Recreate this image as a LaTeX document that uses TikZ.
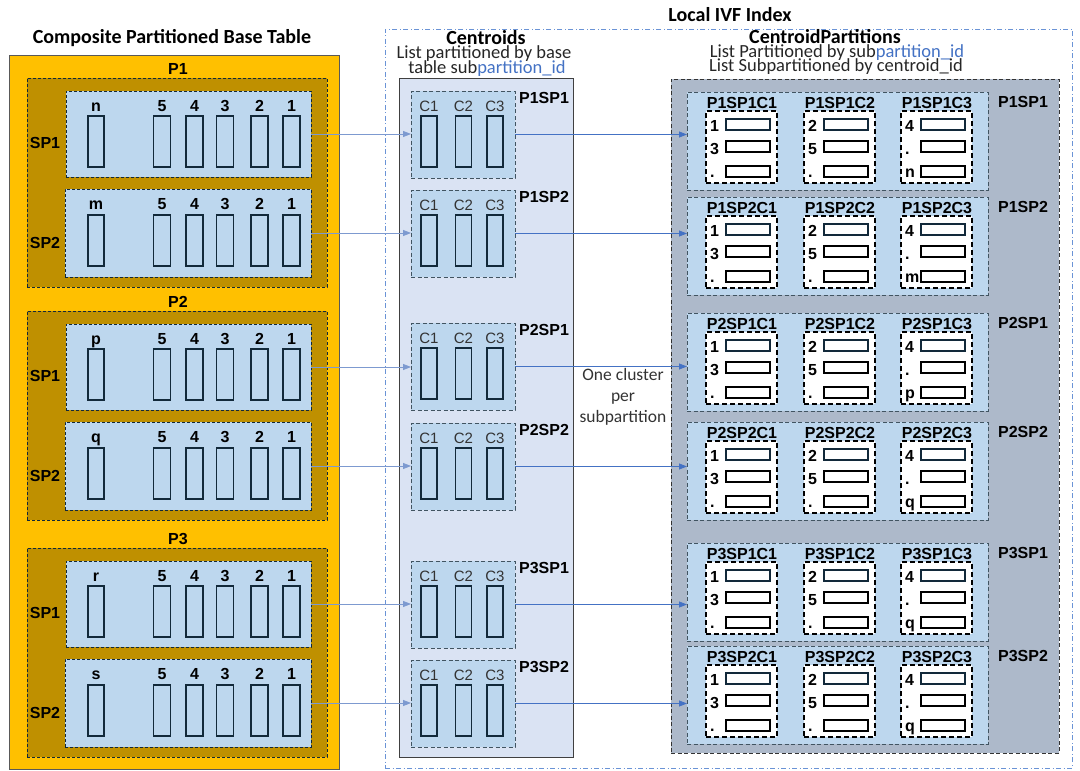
\documentclass[tikz,border=0pt]{standalone}
\usepackage{fontspec}
\setmainfont{Liberation Sans}
\newfontfamily\calib{Carlito}
\usetikzlibrary{arrows.meta}
\definecolor{gold}{HTML}{FFC000}
\definecolor{dgold}{HTML}{BF9000}
\definecolor{lblue}{HTML}{BDD7EE}
\definecolor{pblue}{HTML}{DAE3F3}
\definecolor{grayb}{HTML}{ADB9CA}
\definecolor{arr}{HTML}{4472C4}
\definecolor{arrL}{HTML}{7D9AD0}
\definecolor{colc}{HTML}{12293A}
\definecolor{ivfc}{HTML}{6A93D6}
\definecolor{linkblue}{HTML}{4472C4}
\newcommand\boxat[6]{\node[#1, minimum width=#5pt, minimum height=#6pt] (#2) at (#3,#4) {};}
\begin{document}
\begin{tikzpicture}[x=1pt,y=-1pt,
  every node/.style={inner sep=0pt, outer sep=0pt},
  area/.style={rectangle, anchor=north west, line width=0.6pt},
  yellowbox/.style={area, draw=black!65, fill=gold},
  pbox/.style={area, draw=colc, dash pattern=on 3pt off 2pt, fill=dgold},
  spbox/.style={area, draw=colc, dash pattern=on 3pt off 2pt, fill=lblue},
  cbox/.style={area, draw=black!75, fill=pblue},
  cpbox/.style={area, draw=colc!80, dash pattern=on 4pt off 2.5pt, line width=0.8pt, fill=lblue},
  graybox/.style={area, draw=black!80, dash pattern=on 4pt off 2.5pt, line width=0.8pt, fill=grayb},
  whitebox/.style={area, draw=black, line width=1.6pt, dash pattern=on 5pt off 3pt, fill=white},
  ivfbox/.style={area, draw=ivfc, dash pattern=on 5pt off 2.5pt on 1pt off 2.5pt, line width=0.8pt},
  col/.style={draw=colc, line width=1.5pt},
  rowrect/.style={draw=black, line width=1.6pt, fill=white},
  rowrectA/.style={draw=colc, line width=1.6pt, fill=white},
  lbl/.style={font=\fontsize{16}{19}\selectfont\bfseries, anchor=base},
  clbl/.style={font=\fontsize{15}{18}\selectfont, text=black!80, anchor=base},
  head/.style={font=\calib\bfseries\fontsize{20}{24}\selectfont, anchor=base},
  subh/.style={font=\calib\fontsize{18.5}{20}\selectfont, text=black!85, anchor=base},
  link/.style={-{Triangle[length=8pt,width=6pt]}, draw=arr, line width=0.8pt},
  linkL/.style={-{Triangle[length=8pt,width=6pt]}, draw=arrL, line width=0.8pt}
]
\useasboundingbox (0,0) rectangle (1080,771);
% titles
\node[head] (title) at (172,43) {Composite Partitioned Base Table};
\node[head] (ivftitle) at (730,21) {Local IVF Index};
\boxat{ivfbox}{ivf}{385}{29}{687}{739}
\node[head] (centtitle) at (486,44) {Centroids};
\node[subh] (cent1) at (484,58) {List partitioned by base};
\node[subh] (cent2) at (487,73) {table sub\textcolor{linkblue}{partition\_id}};
\node[head] (cptitle) at (825,43) {CentroidPartitions};
\node[subh] (cp1) at (837,57) {List Partitioned by sub\textcolor{linkblue}{partition\_id}};
\node[subh] (cp2) at (836,71) {List Subpartitioned by centroid\_id};
% left table
\boxat{yellowbox}{table}{9}{55}{330}{714}
\foreach \T/\p/\a/\b in {78/1/n/m,311/2/p/q,548/3/r/s}{
  \node[lbl] (P\p-l) at (178,\T-4) {P\p};
  \boxat{pbox}{P\p}{27}{\T}{300}{209}
  \boxat{spbox}{L\p1}{66}{\T+13}{245}{86}
  \boxat{spbox}{L\p2}{65}{\T+111}{246}{88}
  \node[lbl] (L\p1-l) at (45,\T+70) {SP1};
  \node[lbl] (L\p2-l) at (45,\T+170) {SP2};
  \node[lbl] (L\p1-h0) at (96,\T+33) {\a};
  \node[lbl] (L\p2-h0) at (96,\T+131) {\b};
  \draw[col] (88,\T+38) rectangle (104,\T+89);
  \draw[col] (88,\T+137) rectangle (104,\T+188);
  \foreach \cx/\cl in {162/5,194.5/4,225/3,259.5/2,291.5/1}{
    \node[lbl] (L\p1-h\cl) at (\cx,\T+33) {\cl};
    \node[lbl] (L\p2-h\cl) at (\cx,\T+131) {\cl};
    \draw[col] (\cx-8.5,\T+38) rectangle (\cx+8.5,\T+89);
    \draw[col] (\cx-8.5,\T+137) rectangle (\cx+8.5,\T+188);
  }
}
% centroids
\boxat{cbox}{centcol}{399}{78}{174}{679}
\foreach \Tc/\p/\s in {91/1/1,190/1/2,323/2/1,423/2/2,561/3/1,660/3/2}{
  \boxat{cpbox}{C\p\s}{411}{\Tc}{104}{87}
  \node[lbl] (C\p\s-l) at (544,\Tc+12) {P\p SP\s};
  \foreach \k/\cx in {1/429,2/463.5,3/495}{
    \node[clbl] (C\p\s-h\k) at (\cx,\Tc+20) {C\k};
    \draw[col] (\cx-8,\Tc+25) rectangle (\cx+8,\Tc+76);
  }
}
\node[font=\calib\fontsize{17.5}{21}\selectfont, text=black!80, align=center] (note) at (623,397) {One cluster\\per\\subpartition};
% centroid partitions
\boxat{graybox}{cpcol}{671}{79}{388}{674}
\foreach \Ts/\p/\s/\z in {92/1/1/n,197/1/2/m,313/2/1/p,422/2/2/q,543/3/1/q,646/3/2/q}{
  \boxat{cpbox}{S\p\s}{687}{\Ts}{301}{98}
  \node[lbl] (S\p\s-l) at (1023,\Ts+15) {P\p SP\s};
  \foreach \k/\wx/\ra/\rb/\rc in {1/706/1/3/.,2/804/2/5/.,3/901/4/./\z}{
    \boxat{whitebox}{W\p\s\k}{\wx}{\Ts+19}{71}{72}
    \node[lbl] (W\p\s\k-t) at (\wx+36,\Ts+16) {P\p SP\s C\k};
    \node[lbl,anchor=base west] (W\p\s\k-a) at (\wx+4,\Ts+39) {\ra};
    \node[lbl,anchor=base west] (W\p\s\k-b) at (\wx+4,\Ts+62) {\rb};
    \node[lbl,anchor=base west] (W\p\s\k-c) at (\wx+4,\Ts+85) {\rc};
    \draw[rowrectA] (\wx+20,\Ts+27) rectangle ++(44,11);
    \draw[rowrect] (\wx+20,\Ts+49) rectangle ++(44,11);
    \draw[rowrect] (\wx+20,\Ts+74) rectangle ++(44,11);
  }
}
% connectors
\foreach \p in {1,2,3}{\foreach \s in {1,2}{
  \draw[linkL] (L\p\s.east) -- (L\p\s.east -| C\p\s.west);
  \draw[link] (C\p\s.east) -- (C\p\s.east -| S\p\s.west);
}}
\end{tikzpicture}
\end{document}
